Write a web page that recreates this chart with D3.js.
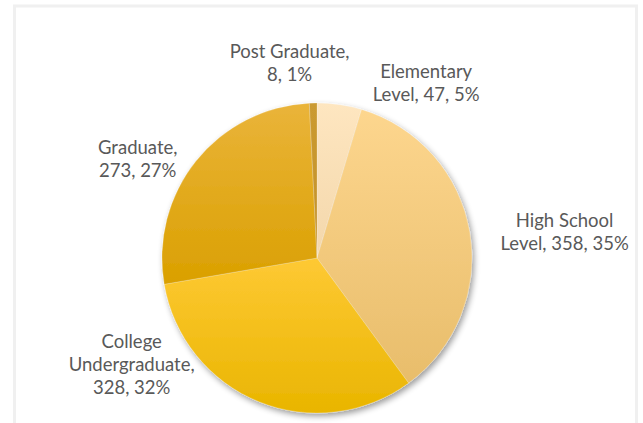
<!DOCTYPE html>
<html>
<head>
<meta charset="utf-8">
<script src="https://cdn.jsdelivr.net/npm/d3@7"></script>
<style>
  body { margin: 0; background: #fff; }
  text { font-family: Lato, "Open Sans", sans-serif; fill: #595959; }
</style>
</head>
<body>
<script>
var categories = ['Elementary Level', 'High School Level', 'College Undergraduate', 'Graduate', 'Post Graduate'];
var values = [47, 358, 328, 273, 8];
// label lines as Excel wrapped them
var labelLines = [
    ['Elementary', 'Level, 47, 5%'],
    ['High School', 'Level, 358, 35%'],
    ['College', 'Undergraduate,', '328, 32%'],
    ['Graduate,', '273, 27%'],
    ['Post Graduate,', '8, 1%']
];
var topColors = ['#fee6c0', '#fdd68e', '#fec934', '#eab43a', '#cb9a30'];
var bottomColors = ['#f3d7ab', '#e8bd6b', '#e9b500', '#daa000', '#c4922a'];

var width = 643, height = 423;
var cx = 317, cy = 258, r = 155;

// where each label sits: angle (deg, clockwise from 12 o'clock) and distance from centre
var labelPlace = [[32, 206], [84, 249], [240, 214], [299, 205], [-8, 197]];

var svg = d3.select('body')
    .append('svg')
    .attr('width', width)
    .attr('height', height);

var defs = svg.append('defs');

var shadow = defs.append('filter')
    .attr('id', 'shadow')
    .attr('x', '-20%').attr('y', '-20%')
    .attr('width', '140%').attr('height', '140%');
shadow.append('feGaussianBlur').attr('in', 'SourceAlpha').attr('stdDeviation', 3);
shadow.append('feOffset').attr('dx', 2).attr('dy', 3).attr('result', 'off');
shadow.append('feComponentTransfer').append('feFuncA').attr('type', 'linear').attr('slope', 0.4);
var merge = shadow.append('feMerge');
merge.append('feMergeNode');
merge.append('feMergeNode').attr('in', 'SourceGraphic');

categories.forEach(function(c, i) {
    var g = defs.append('linearGradient')
        .attr('id', 'grad' + i)
        .attr('x1', 0).attr('y1', 0).attr('x2', 0).attr('y2', 1);
    g.append('stop').attr('offset', '0%').attr('stop-color', topColors[i]);
    g.append('stop').attr('offset', '100%').attr('stop-color', bottomColors[i]);
});

// chart area frame
svg.append('rect')
    .attr('x', 14.5)
    .attr('y', 6)
    .attr('width', 622)
    .attr('height', 440)
    .attr('fill', '#fff')
    .attr('stroke', '#f0f0f0')
    .attr('stroke-width', 3);

var pie = d3.pie()
    .sort(null)
    .value(function(d) { return d; });

var arc = d3.arc()
    .innerRadius(0)
    .outerRadius(r);

var arcs = pie(values);

var g = svg.append('g')
    .attr('transform', 'translate(' + cx + ',' + cy + ')');

g.append('g')
    .attr('filter', 'url(#shadow)')
    .selectAll('.slice')
    .data(arcs)
    .enter()
    .append('path')
    .attr('class', 'slice')
    .attr('d', arc)
    .attr('fill', function(d, i) { return 'url(#grad' + i + ')'; })
    .attr('stroke', 'rgba(255,255,255,0.35)')
    .attr('stroke-width', 0.6);

var lineH = 23;
g.selectAll('.label')
    .data(arcs)
    .enter()
    .append('text')
    .attr('class', 'label')
    .attr('text-anchor', 'middle')
    .style('font-size', '18.5px')
    .each(function(d, i) {
        var a = labelPlace[i][0] * Math.PI / 180;
        var dist = labelPlace[i][1];
        var x = dist * Math.sin(a);
        var y = -dist * Math.cos(a);
        var lines = labelLines[i];
        var y0 = y - (lines.length - 1) * lineH / 2;
        d3.select(this).selectAll('tspan')
            .data(lines)
            .enter()
            .append('tspan')
            .attr('x', x)
            .attr('y', function(l, k) { return y0 + k * lineH; })
            .attr('dy', '0.35em')
            .text(function(l) { return l; });
    });
</script>
</body>
</html>
